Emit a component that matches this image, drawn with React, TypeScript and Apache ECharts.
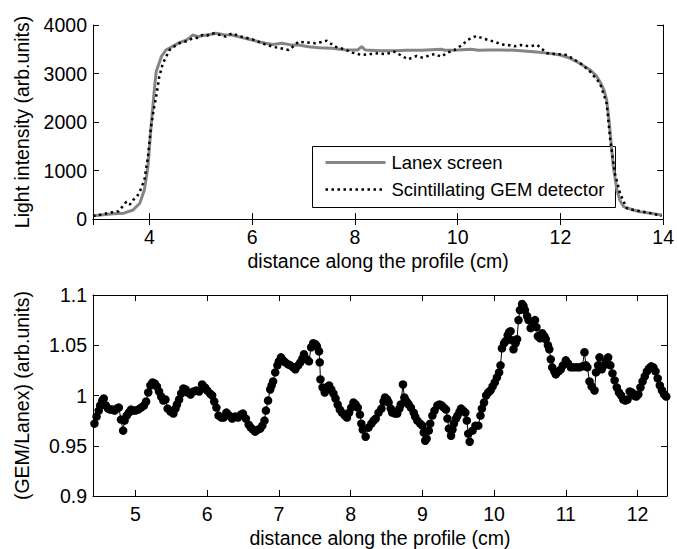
import React, { useEffect, useRef } from "react";
import * as echarts from "echarts";

// ---- Top panel: light intensity profiles ----
const lanexX = [2.9, 3.1, 3.3, 3.5, 3.68, 3.81, 3.9, 3.97, 4.03, 4.1, 4.13, 4.23, 4.32, 4.45, 4.58, 4.7, 4.77, 4.84, 4.95, 5.1, 5.2, 5.29, 5.45, 5.61, 5.8, 6.0, 6.15, 6.26, 6.4, 6.58, 6.75, 6.9, 7.1, 7.3, 7.55, 7.8, 8.05, 8.13, 8.2, 8.5, 8.77, 9.0, 9.3, 9.68, 9.75, 10.0, 10.26, 10.4, 10.6, 10.84, 11.1, 11.48, 11.75, 12.0, 12.15, 12.32, 12.45, 12.58, 12.7, 12.77, 12.85, 12.9, 12.94, 12.97, 13.03, 13.1, 13.16, 13.23, 13.4, 13.55, 13.75, 13.97];
const lanexY = [68, 90, 110, 120, 185, 324, 598, 1078, 1903, 2728, 3037, 3347, 3485, 3560, 3636, 3680, 3725, 3794, 3760, 3794, 3810, 3829, 3800, 3794, 3740, 3691, 3650, 3623, 3600, 3623, 3590, 3588, 3550, 3530, 3520, 3490, 3485, 3554, 3485, 3470, 3471, 3480, 3480, 3499, 3480, 3485, 3499, 3480, 3485, 3485, 3480, 3450, 3420, 3382, 3330, 3244, 3160, 3072, 2950, 2831, 2650, 2454, 2100, 1767, 1078, 598, 380, 254, 190, 151, 120, 82];

const gemX = [2.9, 3.05, 3.23, 3.4, 3.55, 3.62, 3.68, 3.75, 3.81, 3.9, 3.97, 4.03, 4.08, 4.13, 4.19, 4.26, 4.39, 4.5, 4.58, 4.7, 4.84, 4.95, 5.03, 5.12, 5.22, 5.35, 5.48, 5.61, 5.75, 6.0, 6.2, 6.39, 6.55, 6.71, 6.8, 6.9, 7.05, 7.23, 7.35, 7.45, 7.61, 7.8, 7.95, 8.13, 8.3, 8.45, 8.6, 8.77, 8.9, 9.03, 9.2, 9.3, 9.42, 9.55, 9.68, 9.8, 9.94, 10.1, 10.19, 10.36, 10.5, 10.71, 10.85, 10.97, 11.1, 11.23, 11.4, 11.55, 11.74, 11.95, 12.13, 12.25, 12.39, 12.58, 12.77, 12.9, 12.97, 13.06, 13.16, 13.29, 13.45, 13.61, 13.8, 13.97];
const gemY = [62, 90, 130, 160, 357, 300, 392, 450, 563, 804, 1285, 1903, 2250, 2522, 2934, 3210, 3485, 3570, 3623, 3660, 3725, 3740, 3794, 3780, 3829, 3800, 3760, 3829, 3770, 3705, 3620, 3554, 3520, 3485, 3560, 3657, 3640, 3623, 3650, 3677, 3554, 3500, 3430, 3382, 3400, 3416, 3400, 3450, 3370, 3293, 3360, 3330, 3361, 3400, 3347, 3430, 3485, 3600, 3691, 3773, 3720, 3657, 3600, 3588, 3560, 3588, 3560, 3588, 3416, 3400, 3382, 3300, 3210, 3037, 2798, 2386, 1629, 942, 530, 220, 180, 151, 110, 62];

const topYTicks = [0, 1000, 2000, 3000, 4000];

// ---- Bottom panel: ratio GEM / Lanex ----
const ratioX = [4.43, 4.46, 4.49, 4.51, 4.54, 4.56, 4.59, 4.62, 4.65, 4.68, 4.71, 4.74, 4.77, 4.8, 4.83, 4.85, 4.88, 4.91, 4.94, 4.97, 5.0, 5.04, 5.08, 5.12, 5.15, 5.18, 5.21, 5.24, 5.27, 5.3, 5.33, 5.36, 5.39, 5.42, 5.45, 5.49, 5.53, 5.56, 5.58, 5.61, 5.64, 5.67, 5.7, 5.73, 5.77, 5.81, 5.85, 5.89, 5.93, 5.97, 6.0, 6.04, 6.07, 6.1, 6.13, 6.16, 6.2, 6.23, 6.27, 6.31, 6.35, 6.39, 6.43, 6.47, 6.5, 6.54, 6.58, 6.61, 6.64, 6.67, 6.71, 6.74, 6.77, 6.8, 6.82, 6.85, 6.88, 6.9, 6.92, 6.95, 6.98, 7.0, 7.03, 7.06, 7.09, 7.13, 7.16, 7.2, 7.23, 7.27, 7.3, 7.33, 7.35, 7.39, 7.42, 7.45, 7.48, 7.51, 7.53, 7.56, 7.57, 7.58, 7.61, 7.64, 7.67, 7.7, 7.73, 7.76, 7.79, 7.82, 7.85, 7.88, 7.92, 7.95, 7.98, 8.01, 8.04, 8.07, 8.1, 8.13, 8.15, 8.17, 8.21, 8.25, 8.29, 8.32, 8.35, 8.39, 8.43, 8.46, 8.48, 8.51, 8.53, 8.56, 8.58, 8.62, 8.65, 8.68, 8.7, 8.73, 8.75, 8.77, 8.79, 8.81, 8.84, 8.88, 8.9, 8.93, 8.97, 9.0, 9.02, 9.04, 9.06, 9.09, 9.11, 9.14, 9.17, 9.21, 9.24, 9.27, 9.3, 9.33, 9.35, 9.37, 9.4, 9.42, 9.44, 9.47, 9.49, 9.52, 9.54, 9.57, 9.6, 9.62, 9.64, 9.66, 9.7, 9.74, 9.78, 9.81, 9.83, 9.86, 9.89, 9.92, 9.95, 9.98, 10.01, 10.04, 10.07, 10.09, 10.11, 10.14, 10.16, 10.19, 10.21, 10.23, 10.25, 10.27, 10.3, 10.32, 10.34, 10.36, 10.39, 10.41, 10.43, 10.46, 10.48, 10.51, 10.54, 10.57, 10.59, 10.61, 10.64, 10.67, 10.7, 10.72, 10.75, 10.77, 10.79, 10.81, 10.84, 10.86, 10.9, 10.93, 10.96, 11.0, 11.03, 11.07, 11.11, 11.15, 11.19, 11.23, 11.26, 11.28, 11.3, 11.33, 11.36, 11.4, 11.42, 11.45, 11.47, 11.5, 11.53, 11.56, 11.59, 11.62, 11.65, 11.68, 11.71, 11.74, 11.77, 11.8, 11.83, 11.86, 11.89, 11.92, 11.95, 11.98, 12.01, 12.04, 12.07, 12.1, 12.13, 12.16, 12.19, 12.22, 12.25, 12.28, 12.31, 12.34, 12.37, 12.4];
const ratioY = [0.972, 0.979, 0.985, 0.99, 0.995, 0.997, 0.99, 0.987, 0.986, 0.986, 0.985, 0.987, 0.988, 0.976, 0.965, 0.975, 0.98, 0.983, 0.986, 0.985, 0.985, 0.986, 0.988, 0.99, 0.994, 1.003, 1.01, 1.013, 1.012, 1.009, 1.004, 0.999, 0.995, 0.996, 0.987, 0.984, 0.982, 0.987, 0.991, 0.996, 1.002, 1.007, 1.006, 1.003, 1.001, 1.004, 1.005, 1.004, 1.011, 1.008, 1.005, 1.002, 1.0, 0.994, 0.988, 0.98, 0.978, 0.978, 0.983, 0.98, 0.977, 0.979, 0.978, 0.981, 0.982, 0.977, 0.971, 0.968, 0.966, 0.964, 0.966, 0.967, 0.97, 0.975, 0.985, 0.995, 1.006, 1.01, 1.014, 1.023, 1.03, 1.034, 1.038, 1.035, 1.033, 1.031, 1.03, 1.028, 1.026, 1.03, 1.033, 1.037, 1.041, 1.036, 1.034, 1.048, 1.052, 1.051, 1.049, 1.044, 1.033, 1.016, 1.008, 1.003, 1.008, 1.01, 1.006, 1.002, 0.997, 0.991, 0.986, 0.983, 0.98, 0.978, 0.983, 0.988, 0.993, 0.991, 0.988, 0.981, 0.972, 0.966, 0.959, 0.968, 0.972, 0.975, 0.977, 0.983, 0.987, 0.994, 0.998, 0.996, 0.993, 0.987, 0.983, 0.982, 0.982, 0.987, 0.991, 1.011, 0.998, 0.995, 0.993, 0.991, 0.988, 0.983, 0.979, 0.975, 0.972, 0.97, 0.963, 0.955, 0.957, 0.965, 0.972, 0.98, 0.985, 0.99, 0.991, 0.99, 0.988, 0.986, 0.977, 0.967, 0.96, 0.966, 0.972, 0.977, 0.98, 0.984, 0.987, 0.985, 0.983, 0.975, 0.962, 0.954, 0.965, 0.97, 0.97, 0.98, 0.987, 0.993, 1.0, 1.003, 1.005, 1.009, 1.013, 1.018, 1.023, 1.03, 1.047, 1.052, 1.054, 1.06, 1.063, 1.064, 1.055, 1.046, 1.052, 1.056, 1.075, 1.085, 1.091, 1.089, 1.085, 1.079, 1.075, 1.067, 1.071, 1.075, 1.068, 1.059, 1.057, 1.062, 1.059, 1.056, 1.05, 1.046, 1.036, 1.028, 1.024, 1.021, 1.024, 1.026, 1.03, 1.035, 1.032, 1.028, 1.028, 1.028, 1.028, 1.029, 1.043, 1.03, 1.028, 1.014, 1.009, 1.005, 1.023, 1.03, 1.038, 1.026, 1.03, 1.034, 1.038, 1.03, 1.022, 1.015, 1.008, 1.003, 1.0, 0.996, 0.995, 0.996, 1.004, 1.003, 1.0, 0.999, 1.001, 1.008, 1.014, 1.019, 1.024, 1.027, 1.029, 1.028, 1.024, 1.017, 1.01, 1.005, 1.001, 0.999];

const xTitle = "distance along the profile (cm)";
const topYTitle = "Light intensity (arb.units)";
const botYTitle = "(GEM/Lanex) (arb.units)";
const lanexName = "Lanex screen";
const gemName = "Scintillating GEM detector";

const FONT = "Liberation Sans, Arial, Helvetica, sans-serif";
const FS = 19.5;
const LANEX_COLOR = "#858585";

const zip = (xs: number[], ys: number[]) => xs.map((x, i) => [x, ys[i]]);

export default function App() {
  const ref = useRef<HTMLDivElement>(null);
  useEffect(() => {
    if (!ref.current) return;
    const chart = echarts.init(ref.current, null, { renderer: "svg" });
    const lbl = { color: "#000", fontSize: FS, fontFamily: FONT };
    const line = { show: true, lineStyle: { color: "#000", width: 1 } };
    const tick = { show: true, inside: true, length: 6, lineStyle: { color: "#000", width: 1 } };
    const mirrorX = (gridIndex: number, min: number, max: number, splitNumber: number) => ({
      type: "value", gridIndex, position: "top", min, max, splitNumber,
      axisLine: line, axisTick: tick, axisLabel: { show: false }, splitLine: { show: false },
    });
    const mirrorY = (gridIndex: number, min: number, max: number, extra: any) => ({
      type: "value", gridIndex, position: "right", min, max, ...extra,
      axisLine: line, axisTick: tick, axisLabel: { show: false }, splitLine: { show: false },
    });
    const legTxt = { fill: "#000", fontSize: 18.5, fontFamily: FONT, verticalAlign: "middle", align: "left" };
    chart.setOption({
      animation: false,
      backgroundColor: "#fff",
      textStyle: { fontFamily: FONT },
      grid: [
        { left: 93, top: 25, width: 573, height: 194 },
        { left: 93, top: 295, width: 574, height: 203 },
      ],
      graphic: [
        {
          type: "group", left: 312, top: 146, z: 100,
          children: [
            { type: "rect", shape: { x: 0, y: 0, width: 303, height: 61 }, style: { fill: "#fff", stroke: "#000", lineWidth: 1 } },
            { type: "line", shape: { x1: 13, y1: 16, x2: 73, y2: 16 }, style: { stroke: LANEX_COLOR, lineWidth: 3 } },
            { type: "text", x: 79, y: 16, style: { ...legTxt, text: lanexName } },
            { type: "line", shape: { x1: 13, y1: 43, x2: 73, y2: 43 }, style: { stroke: "#000", lineWidth: 2.5, lineDash: [2.5, 3.5] } },
            { type: "text", x: 79, y: 43, style: { ...legTxt, text: gemName } },
          ],
        },
      ],
      xAxis: [
        {
          type: "value", gridIndex: 0, min: 2.9, max: 14, splitNumber: 5,
          axisLine: line, axisTick: tick, splitLine: { show: false },
          axisLabel: { ...lbl, margin: 8, formatter: (v: number) => (Math.abs(v % 2) < 1e-9 ? String(v) : "") },
          name: xTitle, nameLocation: "middle", nameGap: 32, nameTextStyle: lbl,
        },
        mirrorX(0, 2.9, 14, 5),
        {
          type: "value", gridIndex: 1, min: 4.41, max: 12.41, splitNumber: 8,
          axisLine: line, axisTick: tick, splitLine: { show: false },
          axisLabel: { ...lbl, margin: 8, formatter: (v: number) => (Math.abs(v - Math.round(v)) < 1e-9 ? String(Math.round(v)) : "") },
          name: xTitle, nameLocation: "middle", nameGap: 32, nameTextStyle: lbl,
        },
        mirrorX(1, 4.41, 12.41, 8),
      ],
      yAxis: [
        {
          type: "value", gridIndex: 0, min: topYTicks[0], max: topYTicks[topYTicks.length - 1], interval: 1000,
          axisLine: line, axisTick: tick, splitLine: { show: false },
          axisLabel: { ...lbl, margin: 6, formatter: (v: number) => String(v) },
          name: topYTitle, nameLocation: "middle", nameGap: 61, nameRotate: 90, nameTextStyle: lbl,
        },
        mirrorY(0, 0, 4000, { interval: 1000 }),
        {
          type: "value", gridIndex: 1, min: 0.9, max: 1.1, splitNumber: 4,
          axisLine: line, axisTick: tick, splitLine: { show: false },
          axisLabel: { ...lbl, margin: 6, formatter: (v: number) => String(parseFloat(v.toFixed(2))) },
          name: botYTitle, nameLocation: "middle", nameGap: 61, nameRotate: 90, nameTextStyle: lbl,
        },
        mirrorY(1, 0.9, 1.1, { splitNumber: 4 }),
      ],
      series: [
        {
          name: lanexName, type: "line", xAxisIndex: 0, yAxisIndex: 0,
          data: zip(lanexX, lanexY), symbol: "none", showSymbol: false,
          lineStyle: { color: LANEX_COLOR, width: 3 }, itemStyle: { color: LANEX_COLOR },
        },
        {
          name: gemName, type: "line", xAxisIndex: 0, yAxisIndex: 0,
          data: zip(gemX, gemY), symbol: "none", showSymbol: false,
          lineStyle: { color: "#000", width: 2.5, type: [2.5, 3.5] }, itemStyle: { color: "#000" },
        },
        {
          name: "ratio", type: "line", xAxisIndex: 2, yAxisIndex: 2,
          data: zip(ratioX, ratioY), symbol: "circle", symbolSize: 8.5,
          lineStyle: { color: "#000", width: 1 }, itemStyle: { color: "#000" },
        },
      ],
    });
    return () => chart.dispose();
  }, []);
  return (
    <div
      ref={ref}
      style={{ position: "absolute", left: 0, top: 0, width: 677, height: 549, background: "#fff" }}
    />
  );
}
